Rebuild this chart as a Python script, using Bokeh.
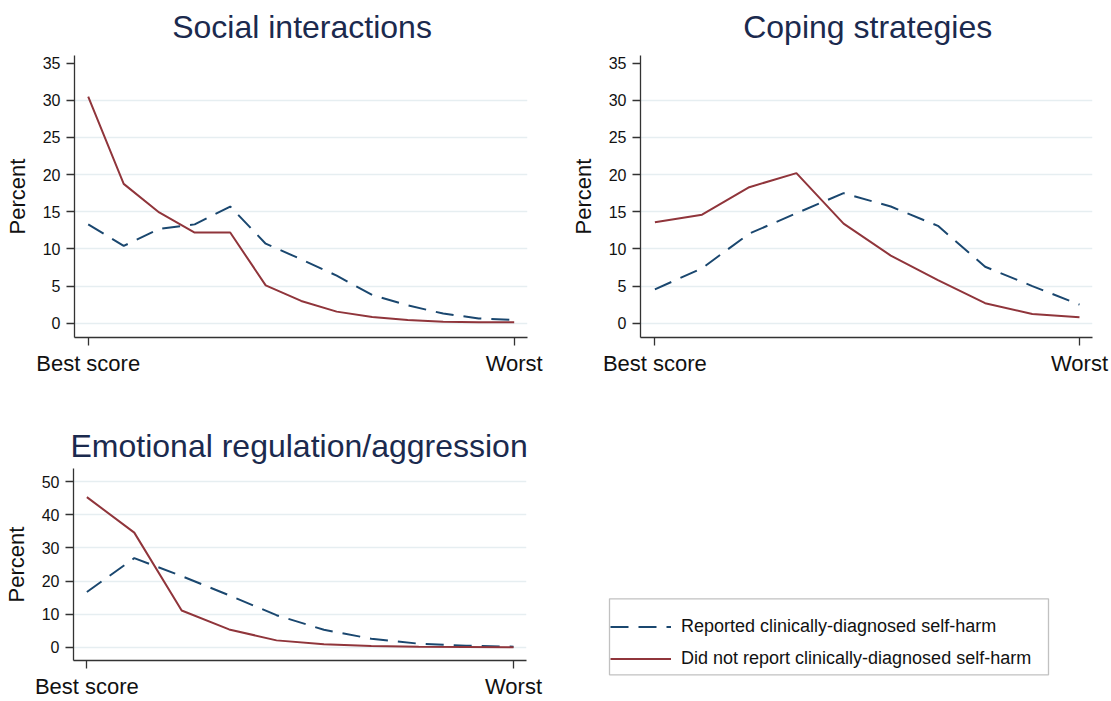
from bokeh.plotting import figure
from bokeh.layouts import column, row
from bokeh.models import Range1d, FixedTicker, Title, Legend, LegendItem, BoxAnnotation
from bokeh.embed import file_html
from bokeh.resources import INLINE

# ---------------- data ----------------
panel_titles = ["Social interactions", "Coping strategies", "Emotional regulation/aggression"]
series_names = ["Reported clinically-diagnosed self-harm",
                "Did not report clinically-diagnosed self-harm"]
x_tick_labels = ["Best score", "Worst"]
y_label = "Percent"

social_reported = [13.3, 10.4, 12.7, 13.3, 15.7, 10.7, 8.6, 6.4, 3.8, 2.4, 1.3, 0.65, 0.45]
social_not_reported = [30.5, 18.75, 14.9, 12.2, 12.2, 5.1, 3.0, 1.56, 0.85, 0.45, 0.2, 0.13, 0.13]

coping_reported = [4.55, 7.4, 12.05, 14.8, 17.5, 15.7, 13.1, 7.6, 5.0, 2.5]
coping_not_reported = [13.6, 14.6, 18.3, 20.2, 13.4, 9.1, 5.8, 2.7, 1.25, 0.8]

emotional_reported = [16.7, 26.9, 21.5, 15.7, 9.7, 5.3, 2.6, 1.1, 0.5, 0.2]
emotional_not_reported = [45.3, 34.6, 11.1, 5.4, 2.1, 0.9, 0.4, 0.2, 0.1, 0.0]

y_ticks_top = [0, 5, 10, 15, 20, 25, 30, 35]
y_ticks_bottom = [0, 10, 20, 30, 40, 50]

# ---------------- styles ----------------
FONT = "Liberation Sans"
BLUE = "#1a476f"
RED = "#90353b"
TITLE_COLOR = "#1b2a4e"
AXIS_COLOR = "#333333"
GRID_COLOR = "#e6eef1"
DASH = "18 10"


def make_panel(title, reported, not_reported, yticks, grid_ticks, xr, yr,
               width, height, borders, title_offset, title_standoff):
    bl, br, bb = borders
    p = figure(width=width, height=height, output_backend="svg", toolbar_location=None,
               x_range=Range1d(*xr), y_range=Range1d(*yr),
               min_border_left=bl, min_border_right=br,
               min_border_top=0, min_border_bottom=bb)
    p.title = Title(text=title, align="left", vertical_align="top",
                    offset=title_offset, standoff=title_standoff,
                    text_font=FONT, text_font_size="32px",
                    text_font_style="normal", text_color=TITLE_COLOR)
    p.outline_line_color = None
    p.background_fill_color = "white"
    p.border_fill_color = "white"

    n = len(reported)
    xs = list(range(n))
    p.line(xs, reported, line_color=BLUE, line_width=2, line_dash=DASH)
    p.line(xs, not_reported, line_color=RED, line_width=2)

    p.xaxis.ticker = FixedTicker(ticks=[0, n - 1])
    p.xaxis.major_label_overrides = {0: x_tick_labels[0], n - 1: x_tick_labels[1]}
    p.xaxis.major_label_text_font_size = "22px"
    p.xaxis.major_label_standoff = 5
    p.yaxis.ticker = FixedTicker(ticks=yticks)
    p.yaxis.major_label_text_font_size = "16px"
    p.yaxis.major_label_standoff = 6
    p.yaxis.axis_label = y_label
    p.yaxis.axis_label_text_font_size = "22px"
    p.yaxis.axis_label_text_font_style = "normal"
    p.yaxis.axis_label_text_font = FONT
    p.yaxis.axis_label_text_color = "#111111"
    p.yaxis.axis_label_standoff = 10
    for ax in (p.xaxis, p.yaxis):
        ax.major_label_text_font = FONT
        ax.major_label_text_color = "#111111"
        ax.axis_line_color = AXIS_COLOR
        ax.axis_line_width = 1.3
        ax.major_tick_line_color = AXIS_COLOR
        ax.major_tick_line_width = 1.3
        ax.major_tick_in = 0
        ax.major_tick_out = 8
        ax.minor_tick_line_color = None

    p.xgrid.grid_line_color = None
    p.ygrid.ticker = FixedTicker(ticks=grid_ticks)
    p.ygrid.grid_line_color = GRID_COLOR
    p.ygrid.grid_line_width = 1.5
    return p


p1 = make_panel(panel_titles[0], social_reported, social_not_reported,
                y_ticks_top, y_ticks_top[:-1],
                (-0.386, 12.375), (-1.92, 36.02), 560, 425, (74, 33, 88), 97.7, 16.6)

p2 = make_panel(panel_titles[1], coping_reported, coping_not_reported,
                y_ticks_top, y_ticks_top[:-1],
                (-0.305, 9.276), (-1.92, 36.02), 551, 425, (80, 19, 88), 102.7, 16.6)

p3 = make_panel(panel_titles[2], emotional_reported, emotional_not_reported,
                y_ticks_bottom, y_ticks_bottom,
                (-0.282, 9.274), (-3.97, 53.94), 560, 276, (72, 34, 39), -3, 5)

# ---------------- legend panel ----------------
pleg = figure(width=551, height=276, output_backend="svg", toolbar_location=None,
              x_axis_location=None, y_axis_location=None,
              x_range=Range1d(0, 1), y_range=Range1d(1000, 1001),
              min_border_left=0, min_border_right=0, min_border_top=0, min_border_bottom=0)
pleg.grid.grid_line_color = None
pleg.outline_line_color = None
# series drawn out of view; they only feed the legend swatches
r_rep = pleg.line(list(range(len(emotional_reported))), emotional_reported,
                  line_color=BLUE, line_width=2, line_dash=DASH)
r_not = pleg.line(list(range(len(emotional_not_reported))), emotional_not_reported,
                  line_color=RED, line_width=2)

pleg.add_layout(BoxAnnotation(left=49, right=488, bottom=26.7, top=102.7,
                              left_units="screen", right_units="screen",
                              bottom_units="screen", top_units="screen",
                              fill_color=None, fill_alpha=0,
                              line_color="#333333", line_width=1.3))

legend = Legend(items=[LegendItem(label=series_names[0], renderers=[r_rep]),
                       LegendItem(label=series_names[1], renderers=[r_not])],
                location=(50, 31.8), padding=0, margin=0, spacing=11,
                glyph_width=61, glyph_height=21, label_height=21,
                label_standoff=10, border_line_color=None,
                background_fill_alpha=0,
                label_text_font=FONT, label_text_font_size="18px",
                label_text_color="#111111")
pleg.add_layout(legend)

layout = column(row(p1, p2), row(column(p3), column(pleg)))

open("out.html", "w").write(file_html(layout, INLINE))
